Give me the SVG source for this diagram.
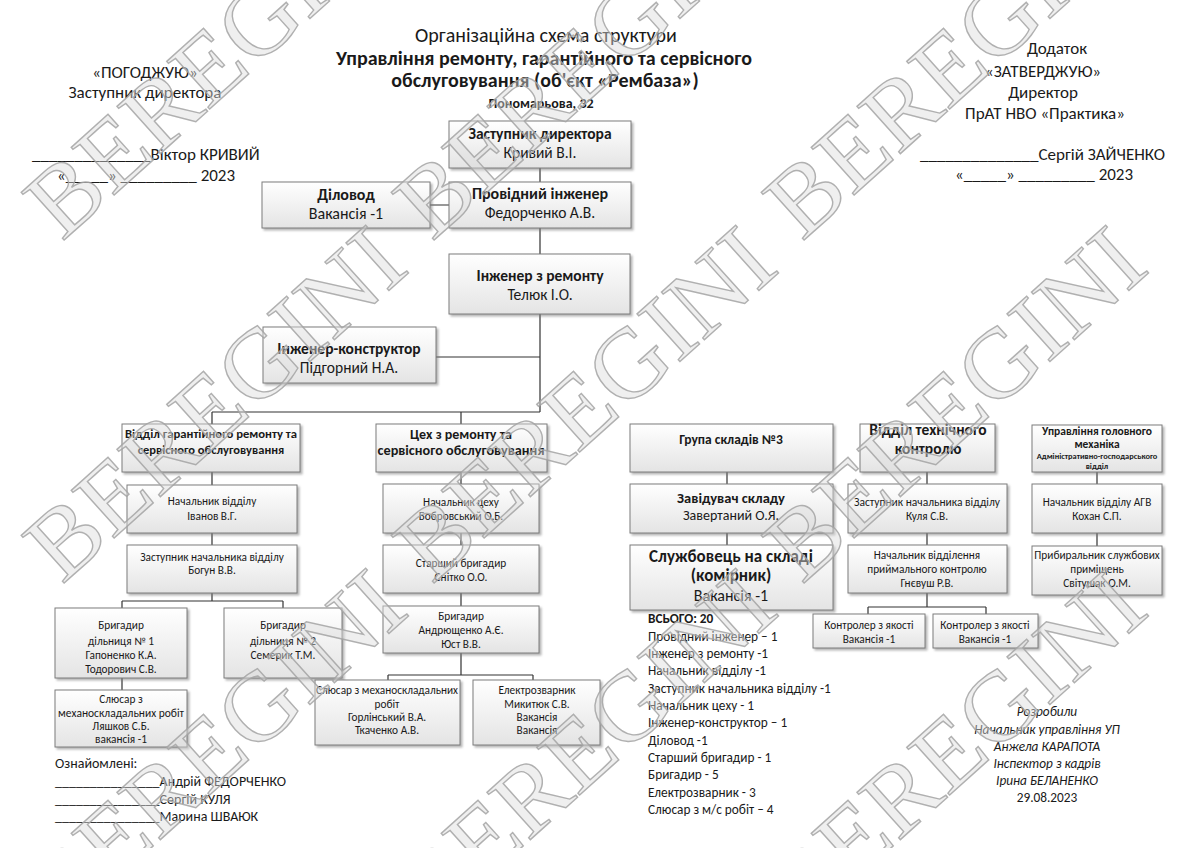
<svg xmlns="http://www.w3.org/2000/svg" width="1200" height="848" viewBox="0 0 1200 848">
<defs>
<linearGradient id="bg" x1="0" y1="0" x2="0" y2="1">
<stop offset="0" stop-color="#ffffff"/>
<stop offset="1" stop-color="#e4e4e4"/>
</linearGradient>
<filter id="sh" x="-10%" y="-10%" width="130%" height="140%">
<feDropShadow dx="2" dy="2" stdDeviation="1.2" flood-color="#777" flood-opacity="0.55"/>
</filter>
</defs>
<style>
text{font-family:Carlito,'Liberation Sans',Arial,sans-serif;fill:#1a1a1a}
.c{text-anchor:middle}
.b{font-weight:bold}
.i{font-style:italic}
.s{font-size:11.3px}
.m{font-size:13.3px}
.hd{font-size:17px}
.box{fill:url(#bg);stroke:#7c7c7c;stroke-width:1;filter:url(#sh)}
.ln{stroke:#333;stroke-width:1.2;fill:none}
.wm{font-family:'Liberation Serif','DejaVu Serif',serif;font-size:98px;fill:#dcdcdc;fill-opacity:0.45;stroke:#a3a3a3;stroke-width:1.4;stroke-opacity:0.85}
</style>
<rect width="1200" height="848" fill="#ffffff"/>

<g id="header">
<text class="c hd" x="145" y="78">«ПОГОДЖУЮ»</text>
<text class="c hd" x="145" y="98">Заступник директора</text>
<text class="hd" x="32" y="160">______________Віктор КРИВИЙ</text>
<text class="hd" x="57" y="181">«_____» _________ 2023</text>
<text class="c" x="546" y="42" style="font-size:20px">Організаційна схема структури</text>
<text class="c b" x="544" y="65" style="font-size:20px">Управління ремонту, гарантійного та сервісного</text>
<text class="c b" x="545" y="87" style="font-size:20px">обслуговування (об'єкт «Рембаза»)</text>
<text class="c b" x="541" y="108" style="font-size:14px">Пономарьова, 32</text>
<text class="c hd" x="1057" y="54">Додаток</text>
<text class="c hd" x="1043" y="77">«ЗАТВЕРДЖУЮ»</text>
<text class="c hd" x="1043" y="98">Директор</text>
<text class="c hd" x="1045" y="119">ПрАТ НВО «Практика»</text>
<text class="hd" x="920" y="160">______________Сергій ЗАЙЧЕНКО</text>
<text class="hd" x="955" y="180">«_____» _________ 2023</text>
</g>

<g id="connectors">
<path class="ln" d="M540 168V182M430 205H449M540 228V254M540 314V412M436 357H540M212 412H540M212 412V424M461 412V424"/>
<path class="ln" d="M212 472V485M212 533V545M212 593V601M122 601H283M122 601V608M283 601V608M122 678V690"/>
<path class="ln" d="M461 472V484M461 533V545M461 593V606M461 653V675M388 675H533M388 675V680M533 675V680"/>
<path class="ln" d="M727 472V484M727 533V545"/>
<path class="ln" d="M927 472V484M927 533V545M927 593V607M868 607H986M868 607V614M986 607V614"/>
<path class="ln" d="M1097 472V484M1097 533V546"/>
</g>

<g id="n-zastupnyk-dyrektora">
<rect class="box" x="449" y="121" width="182" height="47"/>
<text class="c b" x="540" y="139" style="font-size:15.5px">Заступник директора</text>
<text class="c" x="540" y="158" style="font-size:15.5px">Кривий В.І.</text>
</g>
<g id="n-providnyi-inzhener">
<rect class="box" x="449" y="182" width="182" height="46"/>
<text class="c b" x="540" y="199" style="font-size:16px">Провідний інженер</text>
<text class="c" x="540" y="218" style="font-size:15.5px">Федорченко А.В.</text>
</g>
<g id="n-dilovod">
<rect class="box" x="262" y="182" width="168" height="46"/>
<text class="c b" x="346" y="200" style="font-size:16px">Діловод</text>
<text class="c" x="346" y="219" style="font-size:16px">Вакансія -1</text>
</g>
<g id="n-inzhener-remont">
<rect class="box" x="449" y="254" width="181" height="60"/>
<text class="c b" x="540" y="281" style="font-size:15.5px">Інженер з ремонту</text>
<text class="c" x="540" y="300" style="font-size:15.5px">Телюк І.О.</text>
</g>
<g id="n-inzhener-konstruktor">
<rect class="box" x="263" y="327" width="173" height="56"/>
<text class="c b" x="349" y="354" style="font-size:15.5px">Інженер-конструктор</text>
<text class="c" x="349" y="373" style="font-size:15.5px">Підгорний Н.А.</text>
</g>

<g id="d1-viddil-garant">
<rect class="box" x="122" y="424" width="178" height="48"/>
<text class="c b" x="211" y="438" style="font-size:12.5px" textLength="172" lengthAdjust="spacingAndGlyphs">Відділ гарантійного ремонту та</text>
<text class="c b" x="211" y="454" style="font-size:12.5px">сервісного обслуговування</text>
</g>
<g id="d1-nachalnyk">
<rect class="box" x="127" y="485" width="170" height="48"/>
<text class="c s" x="212" y="505">Начальник відділу</text>
<text class="c s" x="212" y="520">Іванов В.Г.</text>
</g>
<g id="d1-zastupnyk">
<rect class="box" x="127" y="545" width="170" height="48"/>
<text class="c s" x="212" y="561">Заступник начальника відділу</text>
<text class="c s" x="212" y="574">Богун В.В.</text>
</g>
<g id="d1-bryhadyr1">
<rect class="box" x="55" y="608" width="132" height="70"/>
<text class="c s" x="121" y="629">Бригадир</text>
<text class="c s" x="121" y="645">дільниця  № 1</text>
<text class="c s" x="121" y="659">Гапоненко К.А.</text>
<text class="c s" x="121" y="673">Тодорович С.В.</text>
</g>
<g id="d1-bryhadyr2">
<rect class="box" x="224" y="608" width="118" height="70"/>
<text class="c s" x="283" y="629">Бригадир</text>
<text class="c s" x="283" y="645">дільниця  № 2</text>
<text class="c s" x="283" y="659">Семерик Т.М.</text>
</g>
<g id="d1-sliusar">
<rect class="box" x="55" y="690" width="132" height="57"/>
<text class="c s" x="121" y="703">Слюсар з</text>
<text class="c s" x="121" y="717" textLength="126" lengthAdjust="spacingAndGlyphs">механоскладальних робіт</text>
<text class="c s" x="121" y="730">Ляшков С.Б.</text>
<text class="c s" x="121" y="743">вакансія -1</text>
</g>

<g id="d2-tsekh">
<rect class="box" x="376" y="424" width="171" height="48"/>
<text class="c b" x="461" y="439" style="font-size:14px">Цех з ремонту та</text>
<text class="c b" x="461" y="455" style="font-size:14px" textLength="167" lengthAdjust="spacingAndGlyphs">сервісного обслуговування</text>
</g>
<g id="d2-nachalnyk">
<rect class="box" x="383" y="484" width="156" height="49"/>
<text class="c s" x="461" y="506">Начальник цеху</text>
<text class="c s" x="461" y="520">Бобровський О.Б.</text>
</g>
<g id="d2-st-bryhadyr">
<rect class="box" x="383" y="545" width="156" height="48"/>
<text class="c s" x="461" y="567">Старший бригадир</text>
<text class="c s" x="461" y="581">Снітко О.О.</text>
</g>
<g id="d2-bryhadyr">
<rect class="box" x="383" y="606" width="156" height="47"/>
<text class="c s" x="461" y="620">Бригадир</text>
<text class="c s" x="461" y="634">Андрющенко А.Є.</text>
<text class="c s" x="461" y="648">Юст В.В.</text>
</g>
<g id="d2-sliusar">
<rect class="box" x="315" y="680" width="145" height="65"/>
<text class="c s" x="387" y="694" textLength="142" lengthAdjust="spacingAndGlyphs">Слюсар з механоскладальних</text>
<text class="c s" x="387" y="708">робіт</text>
<text class="c s" x="387" y="721">Горлінський В.А.</text>
<text class="c s" x="387" y="734">Ткаченко А.В.</text>
</g>
<g id="d2-elektrozvarnyk">
<rect class="box" x="473" y="680" width="127" height="65"/>
<text class="c s" x="537" y="694">Електрозварник</text>
<text class="c s" x="537" y="708">Микитюк С.В.</text>
<text class="c s" x="537" y="721">Вакансія</text>
<text class="c s" x="537" y="734">Вакансія</text>
</g>

<g id="d3-hrupa">
<rect class="box" x="630" y="424" width="203" height="48"/>
<text class="c b" x="731" y="444" style="font-size:13.5px">Група складів №3</text>
</g>
<g id="d3-zaviduvach">
<rect class="box" x="630" y="484" width="203" height="49"/>
<text class="c b" x="731" y="503" style="font-size:14.5px">Завідувач складу</text>
<text class="c" x="731" y="520" style="font-size:14px">Завертаний О.Я.</text>
</g>
<g id="d3-sluzhbovets">
<rect class="box" x="630" y="545" width="203" height="65"/>
<text class="c b" x="731" y="562" style="font-size:17px">Службовець на складі</text>
<text class="c b" x="731" y="581" style="font-size:17px">(комірник)</text>
<text class="c" x="731" y="601" style="font-size:16px">Вакансія -1</text>
</g>

<g id="d4-vtk">
<rect class="box" x="860" y="424" width="135" height="48"/>
<text class="c b" x="928" y="435" style="font-size:15.5px">Відділ технічного</text>
<text class="c b" x="928" y="454" style="font-size:15.5px">контролю</text>
</g>
<g id="d4-zastupnyk">
<rect class="box" x="848" y="484" width="159" height="49"/>
<text class="c s" x="927" y="506" textLength="146" lengthAdjust="spacingAndGlyphs">Заступник начальника відділу</text>
<text class="c s" x="927" y="520">Куля С.В.</text>
</g>
<g id="d4-nachalnyk">
<rect class="box" x="848" y="545" width="159" height="48"/>
<text class="c s" x="927" y="559">Начальник відділення</text>
<text class="c s" x="927" y="573">приймального контролю</text>
<text class="c s" x="927" y="587">Гнєвуш Р.В.</text>
</g>
<g id="d4-kontroler1">
<rect class="box" x="813" y="614" width="112" height="34"/>
<text class="c s" x="869" y="629">Контролер з якості</text>
<text class="c s" x="869" y="643">Вакансія -1</text>
</g>
<g id="d4-kontroler2">
<rect class="box" x="933" y="614" width="105" height="34"/>
<text class="c s" x="985" y="629">Контролер з якості</text>
<text class="c s" x="985" y="643">Вакансія -1</text>
</g>

<g id="d5-uhm">
<rect class="box" x="1032" y="425" width="130" height="47"/>
<text class="c b" x="1097" y="435" style="font-size:11.5px">Управління головного</text>
<text class="c b" x="1097" y="448" style="font-size:11.5px">механіка</text>
<text class="c b" x="1097" y="459" style="font-size:8.4px">Адміністративно-господарського</text>
<text class="c b" x="1097" y="469" style="font-size:8.4px">відділ</text>
</g>
<g id="d5-nachalnyk">
<rect class="box" x="1032" y="484" width="130" height="49"/>
<text class="c s" x="1097" y="506">Начальник відділу АГВ</text>
<text class="c s" x="1097" y="520">Кохан С.П.</text>
</g>
<g id="d5-prybyralnyk">
<rect class="box" x="1032" y="546" width="130" height="49"/>
<text class="c s" x="1097" y="559">Прибиральник службових</text>
<text class="c s" x="1097" y="573">приміщень</text>
<text class="c s" x="1097" y="587">Світушак О.М.</text>
</g>

<g id="totals">
<text class="b m" x="648" y="623">ВСЬОГО: 20</text>
<text class="m" x="648" y="641">Провідний інженер – 1</text>
<text class="m" x="648" y="658">Інженер з ремонту -1</text>
<text class="m" x="648" y="675">Начальник відділу -1</text>
<text class="m" x="648" y="693">Заступник начальника відділу -1</text>
<text class="m" x="648" y="710">Начальник цеху  - 1</text>
<text class="m" x="648" y="727">Інженер-конструктор – 1</text>
<text class="m" x="648" y="745">Діловод -1</text>
<text class="m" x="648" y="762">Старший бригадир  - 1</text>
<text class="m" x="648" y="779">Бригадир  - 5</text>
<text class="m" x="648" y="797">Електрозварник  - 3</text>
<text class="m" x="648" y="814">Слюсар з м/с робіт – 4</text>
</g>

<g id="authors">
<text class="c i m" x="1047" y="716">Розробили</text>
<text class="c i m" x="1047" y="734">Начальник управління УП</text>
<text class="c i m" x="1047" y="751">Анжела КАРАПОТА</text>
<text class="c i m" x="1047" y="768">Інспектор з кадрів</text>
<text class="c i m" x="1047" y="785">Ірина БЕЛАНЕНКО</text>
<text class="c m" x="1047" y="802">29.08.2023</text>
</g>

<g id="acquainted">
<text class="m" x="55" y="768" style="font-size:14px">Ознайомлені:</text>
<text class="m" x="55" y="786" style="font-size:14px">_______________Андрій ФЕДОРЧЕНКО</text>
<text class="m" x="55" y="804" style="font-size:14px">_______________Сергій КУЛЯ</text>
<text class="m" x="55" y="821" style="font-size:14px">_______________Марина ШВАЮК</text>
</g>

<g id="watermark">
<text class="wm" transform="translate(62,242) rotate(-42)" textLength="470" lengthAdjust="spacingAndGlyphs">BEREGINI</text>
<text class="wm" transform="translate(432,242) rotate(-42)" textLength="470" lengthAdjust="spacingAndGlyphs">BEREGINI</text>
<text class="wm" transform="translate(802,242) rotate(-42)" textLength="470" lengthAdjust="spacingAndGlyphs">BEREGINI</text>
<text class="wm" transform="translate(62,585) rotate(-42)" textLength="470" lengthAdjust="spacingAndGlyphs">BEREGINI</text>
<text class="wm" transform="translate(432,585) rotate(-42)" textLength="470" lengthAdjust="spacingAndGlyphs">BEREGINI</text>
<text class="wm" transform="translate(802,585) rotate(-42)" textLength="470" lengthAdjust="spacingAndGlyphs">BEREGINI</text>
<text class="wm" transform="translate(62,928) rotate(-42)" textLength="470" lengthAdjust="spacingAndGlyphs">BEREGINI</text>
<text class="wm" transform="translate(432,928) rotate(-42)" textLength="470" lengthAdjust="spacingAndGlyphs">BEREGINI</text>
<text class="wm" transform="translate(802,928) rotate(-42)" textLength="470" lengthAdjust="spacingAndGlyphs">BEREGINI</text>
</g>
</svg>
